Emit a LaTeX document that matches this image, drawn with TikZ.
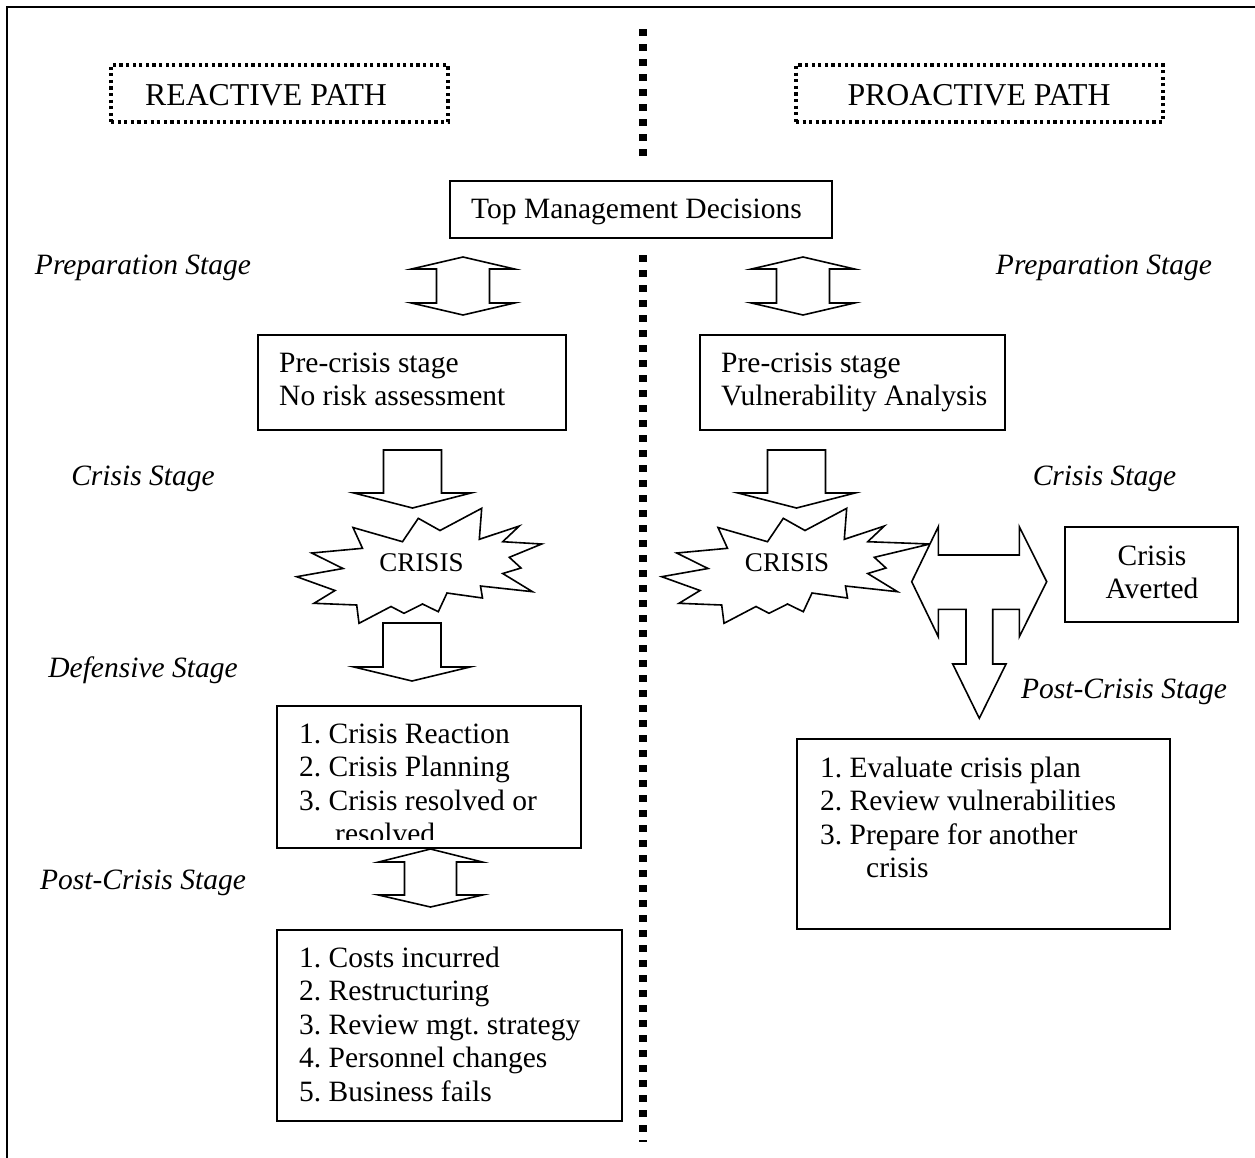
\documentclass[tikz,border=0pt]{standalone}
\usepackage{fontspec}
\setmainfont{Liberation Serif}
\frenchspacing

% vertical two-headed block arrow: centre x, top apex, top head base,
% bottom head base, bottom apex, head half-width, shaft half-width
\newcommand\vdblarrow[7]{%
  \draw[blockarrow] (#1,#2) -- ({#1+#6},#3) -- ({#1+#7},#3) -- ({#1+#7},#4)
    -- ({#1+#6},#4) -- (#1,#5) -- ({#1-#6},#4) -- ({#1-#7},#4)
    -- ({#1-#7},#3) -- ({#1-#6},#3) -- cycle;}

% downward block arrow: centre x, top, head base, apex, head half-width, shaft half-width
\newcommand\downblock[6]{%
  \draw[blockarrow] ({#1-#6},#2) -- ({#1+#6},#2) -- ({#1+#6},#3) -- ({#1+#5},#3)
    -- (#1,#4) -- ({#1-#5},#3) -- ({#1-#6},#3) -- cycle;}

% explosion outline: horizontal shift, x of the long right spike (unshifted)
\newcommand\explosion[2]{%
  \begin{scope}[xshift=#1pt]
  \draw[burst] (481.7,508.3) -- (479.3,539.3) -- (519.3,526) -- (502.7,541.7)
    -- (#2,544) -- (509.3,557.3) -- (521,568) -- (502.7,573.5)
    -- (532.5,591.7) -- (480.5,586) -- (482.5,598) -- (447,593)
    -- (438.3,611.7) -- (422.5,604) -- (404,613.3) -- (391,606.5)
    -- (359,623.3) -- (356.7,605) -- (314,603.3) -- (335,590.5)
    -- (296.7,576.7) -- (343,568.5) -- (311.7,553) -- (362.5,548.3)
    -- (353,527.5) -- (402.5,541.7) -- (418.3,518.3) -- (440,530.5) -- cycle;
  \end{scope}}

\begin{document}
\begin{tikzpicture}[x=1pt,y=-1pt,
  frameline/.style={line width=2.4pt},
  spine/.style={line width=8pt, dash pattern=on 7pt off 8pt},
  titlebox/.style={draw, line width=3.2pt, dash pattern=on 3.2pt off 3.4pt, inner sep=0pt},
  panel/.style={draw, line width=1.8pt, inner sep=0pt, fill=white},
  blockarrow/.style={draw, line width=1.6pt, fill=white, line join=miter},
  burst/.style={draw, line width=1.6pt, fill=white, line join=miter},
  titletext/.style={font=\fontsize{31.8}{36}\selectfont, inner sep=0pt},
  stagelabel/.style={font=\fontsize{29.5}{33.5}\selectfont\itshape, inner sep=0pt},
  bodytext/.style={font=\fontsize{29.5}{33.5}\selectfont, align=left, inner sep=0pt},
  crisistext/.style={font=\fontsize{27}{31}\selectfont, inner sep=0pt}]

\useasboundingbox (0,0) rectangle (1255,1157);

% page frame
\draw[frameline] (7,1165) -- (7,7) -- (1265,7);

% dividing line between the two paths
\coordinate (spineA) at (643,29);
\coordinate (spineB) at (643,159);
\coordinate (spineC) at (643,255);
\coordinate (spineD) at (643,1142);
\draw[spine] (spineA) -- (spineB);
\draw[spine] (spineC) -- (spineD);

% path headings
\node[titlebox, minimum width=337pt, minimum height=57pt] (reactbox) at (279.5,93.5) {};
\node[titletext, anchor=base] (reacttxt) at (266,105.5) {REACTIVE PATH};
\node[titlebox, minimum width=367pt, minimum height=57pt] (proactbox) at (979.5,93.5) {};
\node[titletext, anchor=base] (proacttxt) at (979,105.5) {PROACTIVE PATH};

% shared start
\node[panel, minimum width=382pt, minimum height=57pt] (topbox) at (641,209.5) {};
\node[bodytext, anchor=base] (toptxt) at (636.5,218) {Top Management Decisions};

% stage labels
\node[stagelabel, anchor=base] (prepL) at (143,274.5) {Preparation Stage};
\node[stagelabel, anchor=base] (prepR) at (1104,274.5) {Preparation Stage};
\node[stagelabel, anchor=base] (crisisstL) at (143,485.5) {Crisis Stage};
\node[stagelabel, anchor=base] (crisisstR) at (1104.5,485.5) {Crisis Stage};
\node[stagelabel, anchor=base] (defL) at (143,677.5) {Defensive Stage};
\node[stagelabel, anchor=base] (postL) at (143,889.5) {Post-Crisis Stage};
\node[stagelabel, anchor=base] (postR) at (1124,698.5) {Post-Crisis Stage};

% preparation arrows
\vdblarrow{463}{257}{269}{303}{315}{51.5}{26.5}
\vdblarrow{803}{257}{269}{303}{315}{51.5}{26.5}

% pre-crisis boxes
\node[panel, minimum width=308pt, minimum height=95pt] (preL) at (412,382.5) {};
\node[bodytext, anchor=north west] (preLtxt) at (279,348.5)
  {\strut Pre-crisis stage\\\strut No risk assessment};
\node[panel, minimum width=305pt, minimum height=95pt] (preR) at (852.5,382.5) {};
\node[bodytext, anchor=north west] (preRtxt) at (721,348.5)
  {\strut Pre-crisis stage\\\strut Vulnerability Analysis};

% into the crisis
\downblock{412.5}{450}{493}{508}{58.5}{29}
\downblock{796.5}{450}{493}{508}{58.5}{29}

% crisis explosions
\explosion{0}{541.7}
\node[crisistext, anchor=base] (crisisL) at (421.5,571.5) {CRISIS};
\explosion{365}{565}
\node[crisistext, anchor=base] (crisisR) at (787,571.5) {CRISIS};

% reactive: defensive stage
\downblock{412}{623}{667}{681}{58}{29}
\node[panel, minimum width=304pt, minimum height=142pt] (defbox) at (429,777) {};
\begin{scope}
  \clip (279,708) rectangle (579,839);
  \node[bodytext, anchor=north west] (deftxt) at (299,719.5)
    {\strut 1. Crisis Reaction\\\strut 2. Crisis Planning\\\strut 3. Crisis resolved or\\
     \strut\hspace*{36pt}resolved};
\end{scope}

% reactive: post-crisis stage
\vdblarrow{430.5}{849}{862}{895}{907}{52}{26}
\node[panel, minimum width=345pt, minimum height=191pt] (costbox) at (449.5,1025.5) {};
\node[bodytext, anchor=north west] (costtxt) at (299,943.5)
  {\strut 1. Costs incurred\\\strut 2. Restructuring\\\strut 3. Review mgt. strategy\\
   \strut 4. Personnel changes\\\strut 5. Business fails};

% proactive: averted or post-crisis
\draw[blockarrow] (911.7,581.7) -- (938.3,526.7) -- (938.3,555) -- (1019.3,555)
  -- (1019.3,526.7) -- (1046.7,581.7) -- (1019.3,636.7) -- (1019.3,609.3)
  -- (992.7,609.3) -- (992.7,664) -- (1006,664) -- (979.3,718.3)
  -- (952.7,664) -- (966,664) -- (966,609.3) -- (938.3,609.3)
  -- (938.3,636.7) -- cycle;
\node[panel, minimum width=173pt, minimum height=95pt] (avertbox) at (1151.5,574.5) {};
\node[bodytext, align=center, anchor=north] (averttxt) at (1152,541.5)
  {\strut Crisis\\\strut Averted};

\node[panel, minimum width=373pt, minimum height=190pt] (evalbox) at (983.5,834) {};
\node[bodytext, anchor=north west] (evaltxt) at (820,753.5)
  {\strut 1. Evaluate crisis plan\\\strut 2. Review vulnerabilities\\
   \strut 3. Prepare for another\\\strut\hspace*{46pt}crisis};

\end{tikzpicture}
\end{document}
